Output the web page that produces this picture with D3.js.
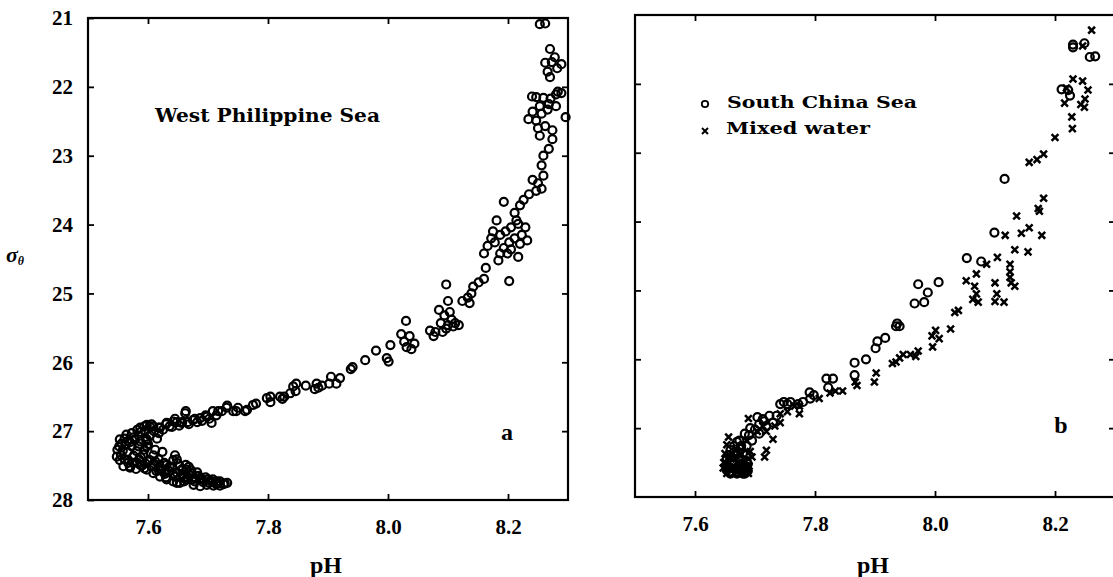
<!DOCTYPE html>
<html>
<head>
<meta charset="utf-8">
<script src="https://cdn.jsdelivr.net/npm/d3@7"></script>
<style>
  body { margin: 0; background: #fff; }
  svg { display: block; font-family: "Liberation Serif", "Times New Roman", serif; }
</style>
</head>
<body>
<div id="chart"></div>
<script>
// pH ticks and sigma-theta ticks
const xTicks = [7.6, 7.8, 8.0, 8.2];
const yTicks = [21, 22, 23, 24, 25, 26, 27, 28];

// panel a : West Philippine Sea  [pH, sigma-theta]
const westPhilippine = [
  [8.262, 21.08], [8.253, 21.09], [8.27, 21.45], [8.262, 21.65], [8.282, 21.73], [8.27, 21.86],
  [8.273, 21.64], [8.278, 21.57], [8.266, 21.78], [8.289, 21.67], [8.283, 22.07], [8.24, 22.14],
  [8.247, 22.15], [8.259, 22.16], [8.271, 22.17], [8.28, 22.28], [8.253, 22.28], [8.266, 22.33],
  [8.241, 22.36], [8.234, 22.47], [8.247, 22.49], [8.289, 22.09], [8.296, 22.44], [8.28, 22.11],
  [8.268, 22.25], [8.256, 22.39], [8.25, 22.6], [8.253, 22.71], [8.262, 22.57], [8.274, 22.63],
  [8.274, 22.76], [8.268, 22.9], [8.259, 23.0], [8.256, 23.14], [8.259, 23.29], [8.241, 23.35],
  [8.25, 23.4], [8.256, 23.48], [8.247, 23.51], [8.235, 23.56], [8.226, 23.64], [8.22, 23.72],
  [8.211, 23.83], [8.214, 23.94], [8.193, 23.67], [8.181, 23.94], [8.175, 24.1], [8.172, 24.2],
  [8.178, 24.26], [8.187, 24.15], [8.196, 24.1], [8.205, 24.04], [8.217, 23.99], [8.229, 24.04],
  [8.223, 24.15], [8.232, 24.23], [8.22, 24.28], [8.211, 24.2], [8.202, 24.26], [8.193, 24.34],
  [8.187, 24.42], [8.184, 24.52], [8.199, 24.42], [8.205, 24.36], [8.217, 24.47], [8.202, 24.82],
  [8.16, 24.42], [8.166, 24.31], [8.163, 24.63], [8.16, 24.79], [8.151, 24.84], [8.142, 24.9],
  [8.139, 25.0], [8.133, 25.06], [8.136, 25.14], [8.124, 25.11], [8.118, 25.46], [8.112, 25.43],
  [8.097, 24.87], [8.1, 25.11], [8.103, 25.27], [8.094, 25.32], [8.106, 25.38], [8.085, 25.24],
  [8.088, 25.43], [8.097, 25.51], [8.079, 25.56], [8.07, 25.54], [8.076, 25.62], [8.091, 25.56],
  [8.109, 25.48], [8.1, 25.46], [8.03, 25.4], [8.022, 25.59], [8.036, 25.62], [8.027, 25.7],
  [8.044, 25.73], [8.031, 25.78], [8.039, 25.81], [8.004, 25.75], [7.998, 25.94], [8.001, 25.99],
  [7.98, 25.83], [7.962, 25.97], [7.941, 26.07], [7.938, 26.1], [7.92, 26.23], [7.905, 26.21],
  [7.902, 26.31], [7.914, 26.31], [7.89, 26.34], [7.881, 26.31], [7.884, 26.37], [7.878, 26.39],
  [7.863, 26.34], [7.847, 26.31], [7.846, 26.42], [7.837, 26.45], [7.827, 26.5], [7.824, 26.53],
  [7.804, 26.5], [7.804, 26.58], [7.78, 26.6], [7.765, 26.69], [7.75, 26.66], [7.747, 26.71],
  [7.732, 26.63], [7.723, 26.71], [7.714, 26.77], [7.708, 26.71], [7.702, 26.82], [7.696, 26.77],
  [7.69, 26.85], [7.678, 26.82], [7.666, 26.87], [7.663, 26.71], [7.657, 26.87], [7.648, 26.87],
  [7.645, 26.82], [7.636, 26.93], [7.63, 26.9], [7.618, 26.95], [7.606, 26.9], [7.603, 26.93],
  [7.594, 26.93], [7.588, 27.01], [7.582, 26.98], [7.576, 27.09], [7.567, 27.14], [7.561, 27.11],
  [7.552, 27.22], [7.549, 27.27], [7.555, 27.35], [7.561, 27.41], [7.567, 27.46], [7.57, 27.51],
  [7.582, 27.46], [7.588, 27.38], [7.594, 27.27], [7.6, 27.19], [7.603, 27.06], [7.597, 27.14],
  [7.615, 27.11], [7.618, 27.03], [7.594, 27.54], [7.606, 27.51], [7.618, 27.57], [7.63, 27.59],
  [7.642, 27.62], [7.654, 27.67], [7.666, 27.67], [7.678, 27.73], [7.69, 27.7], [7.702, 27.75],
  [7.714, 27.77], [7.726, 27.77], [7.732, 27.75], [7.72, 27.73], [7.708, 27.7], [7.696, 27.67],
  [7.684, 27.65], [7.672, 27.57], [7.663, 27.49], [7.648, 27.41], [7.645, 27.35], [7.636, 27.51],
  [7.627, 27.46], [7.618, 27.41], [7.609, 27.35], [7.66, 27.73], [7.648, 27.75], [7.63, 27.67],
  [7.624, 27.3], [7.612, 27.27],
  [7.553, 27.12], [7.564, 27.05], [7.573, 27.03], [7.587, 26.95], [7.598, 26.91], [7.609, 26.93],
  [7.62, 26.95], [7.631, 26.88], [7.642, 26.86], [7.656, 26.88], [7.662, 26.74], [7.675, 26.84],
  [7.687, 26.81], [7.698, 26.79], [7.706, 26.88], [7.717, 26.71], [7.731, 26.66], [7.742, 26.71],
  [7.762, 26.71], [7.775, 26.62], [7.798, 26.52], [7.82, 26.5], [7.842, 26.35],
  [7.548, 27.37], [7.559, 27.51], [7.57, 27.53], [7.587, 27.49], [7.598, 27.56], [7.609, 27.61],
  [7.62, 27.66], [7.631, 27.7], [7.642, 27.73], [7.653, 27.75], [7.664, 27.7], [7.676, 27.78],
  [7.687, 27.8], [7.698, 27.78], [7.709, 27.79], [7.72, 27.79], [7.728, 27.76], [7.642, 27.42],
  [7.653, 27.51], [7.664, 27.56], [7.673, 27.61], [7.687, 27.68], [7.7, 27.7], [7.715, 27.73],
  [7.631, 27.49], [7.62, 27.51], [7.603, 27.42], [7.592, 27.34], [7.581, 27.29], [7.573, 27.22],
  [7.562, 27.2], [7.553, 27.42], [7.567, 27.42], [7.575, 27.46], [7.598, 27.22], [7.598, 27.12],
  [7.587, 27.15], [7.578, 27.12], [7.566, 27.3], [7.576, 27.36], [7.585, 27.41], [7.596, 27.47],
  [7.61, 27.47], [7.622, 27.55], [7.635, 27.58], [7.648, 27.6], [7.658, 27.63], [7.669, 27.64],
  [7.68, 27.69], [7.692, 27.74], [7.704, 27.72], [7.716, 27.76], [7.657, 27.55], [7.64, 27.53],
  [7.585, 27.07], [7.595, 27.0], [7.61, 27.0], [7.625, 26.98], [7.64, 26.94], [7.652, 26.92],
  [7.668, 26.9], [7.682, 26.87], [7.556, 27.18], [7.558, 27.28], [7.57, 27.16], [7.584, 27.22],
  [7.628, 27.62], [7.645, 27.66], [7.66, 27.68], [7.674, 27.7], [7.614, 27.58], [7.59, 27.5],
  [7.58, 27.55], [7.6, 27.44], [7.612, 27.44], [7.65, 27.47], [7.668, 27.52], [7.682, 27.6]
];

// panel b : South China Sea (circles) and mixed water (crosses)
const southChina = [
  [8.23, 21.43], [8.23, 21.47], [8.249, 21.41], [8.258, 21.61], [8.267, 21.6], [8.211, 22.08],
  [8.222, 22.09], [8.225, 22.17], [8.116, 23.38], [8.099, 24.16], [8.053, 24.53], [8.077, 24.58],
  [7.972, 24.91], [7.988, 25.03], [8.006, 24.88], [7.966, 25.19], [7.982, 25.17], [7.937, 25.48],
  [7.941, 25.52], [7.935, 25.52], [7.917, 25.69], [7.904, 25.74], [7.901, 25.84], [7.885, 26.0],
  [7.866, 26.05], [7.866, 26.23], [7.819, 26.28], [7.83, 26.28], [7.822, 26.41], [7.791, 26.48],
  [7.798, 26.52], [7.792, 26.57], [7.748, 26.62], [7.754, 26.65], [7.742, 26.65], [7.759, 26.62],
  [7.704, 26.84], [7.707, 26.94], [7.692, 27.0], [7.683, 27.08], [7.674, 27.18], [7.665, 27.26],
  [7.656, 27.39], [7.653, 27.53], [7.653, 27.61], [7.659, 27.66], [7.671, 27.64], [7.683, 27.66],
  [7.686, 27.56], [7.677, 27.45], [7.665, 27.5], [7.659, 27.32], [7.671, 27.34], [7.686, 27.39],
  [7.695, 27.18], [7.707, 27.08], [7.719, 26.97], [7.73, 26.92], [7.724, 26.82], [7.713, 26.87],
  [7.736, 26.82], [7.772, 26.65], [7.78, 26.62], [7.686, 27.26], [7.677, 27.26], [7.653, 27.45],
  [7.66, 27.58], [7.668, 27.6], [7.676, 27.62], [7.683, 27.6], [7.66, 27.42], [7.668, 27.4],
  [7.678, 27.52], [7.686, 27.48], [7.67, 27.2], [7.69, 27.1], [7.7, 27.02], [7.715, 26.9],
  [7.662, 27.48], [7.674, 27.46], [7.68, 27.36], [7.664, 27.36], [7.676, 27.3], [7.656, 27.56],
  [7.688, 27.62], [7.67, 27.66], [7.68, 27.66], [7.688, 27.52], [7.66, 27.63], [7.672, 27.56]
];

const mixedWater = [
  [8.261, 21.22], [8.246, 21.45], [8.23, 21.93], [8.246, 21.96], [8.219, 22.06], [8.255, 22.09],
  [8.216, 22.28], [8.25, 22.22], [8.243, 22.3], [8.249, 22.34], [8.228, 22.48], [8.229, 22.65],
  [8.2, 22.78], [8.181, 23.02], [8.17, 23.1], [8.157, 23.14], [8.181, 23.66], [8.172, 23.81],
  [8.174, 23.85], [8.136, 23.92], [8.157, 24.09], [8.144, 24.17], [8.117, 24.2], [8.178, 24.2],
  [8.133, 24.41], [8.155, 24.44], [8.104, 24.52], [8.086, 24.62], [8.125, 24.62], [8.125, 24.73],
  [8.069, 24.76], [8.052, 24.86], [8.066, 24.94], [8.069, 25.05], [8.063, 25.13], [8.072, 25.17],
  [8.1, 24.89], [8.103, 25.05], [8.1, 25.16], [8.115, 25.17], [8.127, 24.89], [8.133, 24.94],
  [8.125, 24.81], [8.039, 25.29], [8.033, 25.32], [8.026, 25.56], [8.001, 25.58], [7.995, 25.66],
  [8.007, 25.7], [7.996, 25.82], [7.972, 25.88], [7.968, 25.96], [7.959, 25.93], [7.947, 25.93],
  [7.941, 25.98], [7.935, 26.04], [7.929, 26.06], [7.902, 26.2], [7.899, 26.33], [7.867, 26.33],
  [7.87, 26.38], [7.846, 26.46], [7.834, 26.46], [7.825, 26.49], [7.807, 26.57], [7.774, 26.68],
  [7.774, 26.79], [7.766, 26.68], [7.742, 26.79], [7.73, 27.16], [7.719, 27.32], [7.716, 27.42],
  [7.689, 26.86], [7.656, 27.13], [7.653, 27.24], [7.65, 27.37], [7.647, 27.58], [7.653, 27.66],
  [7.665, 27.66], [7.677, 27.66], [7.689, 27.66], [7.686, 27.64], [7.671, 27.56], [7.695, 27.42],
  [7.704, 27.05], [7.713, 26.97], [7.719, 27.05], [7.742, 26.92], [7.754, 26.76], [7.733, 26.97],
  [7.692, 27.34], [7.686, 27.18], [7.66, 27.6], [7.672, 27.62], [7.684, 27.58], [7.656, 27.5],
  [7.66, 27.45], [7.672, 27.5], [7.682, 27.46], [7.668, 27.3], [7.648, 27.5], [7.69, 27.55]
];

const width = 1113;
const height = 577;

const svg = d3.select("#chart").append("svg")
    .attr("width", width)
    .attr("height", height);

// one framed panel with inward ticks on all four sides; yRange is [top, bottom]
function drawPanel(xRange, yRange, yLabels) {
  const x = d3.scaleLinear().domain([7.5, 8.3]).range(xRange);
  const y = d3.scaleLinear().domain([21, 28]).range(yRange);

  const g = svg.append("g");

  const styleAxis = sel => {
    sel.select(".domain").remove();
    sel.selectAll("line").attr("stroke", "#000").attr("stroke-width", 1.8);
    sel.selectAll("text")
        .attr("fill", "#000")
        .style("font-size", "21px")
        .style("font-weight", "bold")
        .style("font-family", "'Liberation Serif', serif");
  };

  g.append("g")
      .attr("transform", `translate(0,${yRange[1]})`)
      .call(d3.axisBottom(x).tickValues(xTicks).tickFormat(d3.format(".1f")).tickSize(-6).tickPadding(19))
      .call(styleAxis);
  g.append("g")
      .attr("transform", `translate(0,${yRange[0]})`)
      .call(d3.axisTop(x).tickValues(xTicks).tickFormat("").tickSize(-6))
      .call(styleAxis);
  g.append("g")
      .attr("transform", `translate(${xRange[0]},0)`)
      .call(d3.axisLeft(y).tickValues(yLabels ? yTicks : yTicks.slice(1, -1))
        .tickFormat(yLabels ? d3.format("d") : "").tickSize(-6).tickPadding(15))
      .call(styleAxis);
  g.append("g")
      .attr("transform", `translate(${xRange[1]},0)`)
      .call(d3.axisRight(y).tickValues(yTicks.slice(1, -1)).tickFormat("").tickSize(-6))
      .call(styleAxis);

  g.append("rect")
      .attr("x", xRange[0])
      .attr("y", yRange[0])
      .attr("width", xRange[1] - xRange[0])
      .attr("height", yRange[1] - yRange[0])
      .attr("fill", "none")
      .attr("stroke", "#000")
      .attr("stroke-width", 2.2);

  g.append("text")
      .attr("x", (xRange[0] + xRange[1]) / 2 - 2)
      .attr("y", 573)
      .attr("text-anchor", "middle")
      .style("font-size", "24px")
      .style("font-weight", "bold")
      .text("pH");

  return { g, x, y };
}

function circles(panel, data, r) {
  panel.g.append("g")
    .selectAll("circle")
    .data(data)
    .join("circle")
      .attr("cx", d => panel.x(d[0]))
      .attr("cy", d => panel.y(d[1]))
      .attr("r", r)
      .attr("fill", "none")
      .attr("stroke", "#000")
      .attr("stroke-width", 2.2);
}

function crosses(panel, data, s) {
  panel.g.append("g")
    .selectAll("path")
    .data(data)
    .join("path")
      .attr("transform", d => `translate(${panel.x(d[0])},${panel.y(d[1])})`)
      .attr("d", `M${-s},${-s}L${s},${s}M${-s},${s}L${s},${-s}`)
      .attr("fill", "none")
      .attr("stroke", "#000")
      .attr("stroke-width", 2.5);
}

const labelFont = "'DejaVu Serif', serif";

// panel a
const pa = drawPanel([88, 568], [18, 500], true);
circles(pa, westPhilippine, 4);

pa.g.append("text")
    .attr("x", 155)
    .attr("y", 122)
    .attr("textLength", 225)
    .attr("lengthAdjust", "spacingAndGlyphs")
    .style("font-family", labelFont)
    .style("font-size", "19px")
    .style("font-weight", "bold")
    .text("West  Philippine  Sea");

pa.g.append("text")
    .attr("x", 507)
    .attr("y", 440)
    .attr("text-anchor", "middle")
    .style("font-size", "24px")
    .style("font-weight", "bold")
    .text("a");

// sigma-theta label
const yl = svg.append("text")
    .attr("x", 6)
    .attr("y", 262)
    .style("font-size", "22px")
    .style("font-weight", "bold")
    .style("font-style", "italic");
yl.append("tspan").text("σ");
yl.append("tspan").attr("dy", 3).style("font-size", "12px").text("θ");

// panel b
const pb = drawPanel([635, 1115], [15, 497], false);
circles(pb, southChina, 4);
crosses(pb, mixedWater, 3.4);

pb.g.append("text")
    .attr("x", 1061)
    .attr("y", 433)
    .attr("text-anchor", "middle")
    .style("font-size", "24px")
    .style("font-weight", "bold")
    .text("b");

// legend
const legend = pb.g.append("g");
legend.append("circle")
    .attr("cx", 705).attr("cy", 104).attr("r", 3.2)
    .attr("fill", "none").attr("stroke", "#000").attr("stroke-width", 1.8);
legend.append("path")
    .attr("d", "M702,128L708,134M702,134L708,128")
    .attr("stroke", "#000").attr("stroke-width", 2);
legend.append("text")
    .attr("x", 727).attr("y", 108)
    .attr("textLength", 190).attr("lengthAdjust", "spacingAndGlyphs")
    .style("font-family", labelFont)
    .style("font-size", "17px").style("font-weight", "bold")
    .text("South  China  Sea");
legend.append("text")
    .attr("x", 726).attr("y", 134)
    .attr("textLength", 144).attr("lengthAdjust", "spacingAndGlyphs")
    .style("font-family", labelFont)
    .style("font-size", "17px").style("font-weight", "bold")
    .text("Mixed  water");
</script>
</body>
</html>
